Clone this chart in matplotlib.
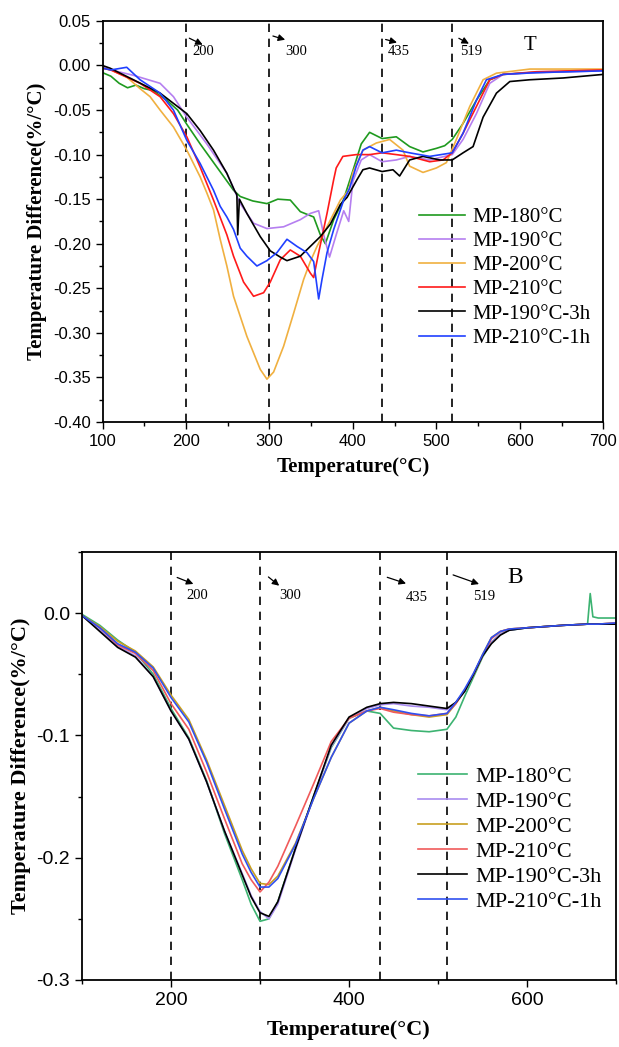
import numpy as np
import matplotlib
matplotlib.use("Agg")
import matplotlib.pyplot as plt
from matplotlib.ticker import MultipleLocator, FormatStrFormatter

plt.rcParams['font.family'] = ['Liberation Sans', 'DejaVu Sans']

labels = ['MP-180°C', 'MP-190°C', 'MP-200°C', 'MP-210°C', 'MP-190°C-3h', 'MP-210°C-1h']

# ---- panel T (top) ----
t_x_180 = [100, 110, 120, 130, 140, 150, 160, 177, 190, 201, 217, 237, 257, 265, 280, 297, 310, 325, 337,
           345, 353, 361, 367, 377, 389, 400, 410, 420, 435, 452, 468, 484, 500, 510, 519, 532, 548, 564,
           580, 612, 650, 700]
t_y_180 = [-0.008, -0.012, -0.02, -0.025, -0.022, -0.026, -0.028, -0.039, -0.05, -0.066, -0.088, -0.114,
           -0.14, -0.147, -0.152, -0.155, -0.15, -0.151, -0.164, -0.167, -0.17, -0.19, -0.2, -0.173, -0.15,
           -0.118, -0.088, -0.075, -0.082, -0.080, -0.091, -0.097, -0.093, -0.09, -0.083, -0.065, -0.039,
           -0.016, -0.01, -0.008, -0.007, -0.005]

t_x_190 = [100, 110, 137, 169, 185, 201, 225, 249, 265, 281, 297, 317, 337, 349, 359, 365, 372, 380, 389,
           395, 400, 410, 420, 435, 452, 468, 492, 519, 532, 548, 564, 580, 620, 700]
t_y_190 = [-0.002, -0.005, -0.011, -0.02, -0.035, -0.058, -0.088, -0.121, -0.155, -0.177, -0.183, -0.181,
           -0.173, -0.166, -0.163, -0.19, -0.215, -0.19, -0.163, -0.175, -0.13, -0.106, -0.10, -0.108,
           -0.106, -0.102, -0.106, -0.10, -0.083, -0.054, -0.02, -0.01, -0.008, -0.006]

t_x_200 = [100, 110, 129, 145, 157, 169, 185, 201, 217, 225, 233, 241, 249, 257, 273, 289, 297, 305, 317,
           329, 341, 349, 357, 369, 385, 395, 400, 412, 428, 444, 460, 468, 484, 500, 512, 524, 540, 556,
           572, 612, 700]
t_y_200 = [-0.003, -0.005, -0.013, -0.026, -0.035, -0.05, -0.069, -0.095, -0.125, -0.143, -0.162, -0.195,
           -0.225, -0.259, -0.304, -0.341, -0.352, -0.344, -0.315, -0.278, -0.24, -0.22, -0.203, -0.181,
           -0.151, -0.14, -0.12, -0.095, -0.087, -0.083, -0.095, -0.113, -0.12, -0.115, -0.109, -0.083,
           -0.046, -0.016, -0.0086, -0.004, -0.004]

t_x_210 = [100, 110, 145, 169, 185, 201, 217, 233, 249, 257, 269, 281, 293, 301, 313, 325, 337, 349, 353,
           359, 369, 377, 380, 388, 404, 420, 435, 452, 468, 492, 508, 519, 532, 548, 564, 580, 620, 700]
t_y_210 = [-0.003, -0.005, -0.02, -0.035, -0.054, -0.08, -0.114, -0.151, -0.19, -0.214, -0.243, -0.259,
           -0.255, -0.243, -0.218, -0.207, -0.214, -0.233, -0.238, -0.21, -0.166, -0.128, -0.115, -0.102,
           -0.1, -0.1, -0.098, -0.1, -0.102, -0.108, -0.106, -0.098, -0.076, -0.046, -0.016, -0.01,
           -0.007, -0.005]

t_x_190_3h = [100, 109, 137, 169, 201, 217, 233, 249, 258, 261, 262, 264, 273, 289, 301, 313, 321, 337,
              349, 361, 373, 385, 393, 405, 412, 420, 435, 448, 456, 468, 484, 504, 519, 532, 544, 556,
              572, 588, 612, 652, 700]
t_y_190_3h = [0.0, -0.003, -0.016, -0.031, -0.054, -0.073, -0.095, -0.121, -0.14, -0.145, -0.19, -0.15,
              -0.166, -0.192, -0.208, -0.215, -0.219, -0.214, -0.203, -0.192, -0.178, -0.156, -0.148,
              -0.128, -0.117, -0.115, -0.119, -0.117, -0.124, -0.106, -0.102, -0.106, -0.106, -0.098,
              -0.091, -0.058, -0.031, -0.018, -0.016, -0.014, -0.01]

t_x_210_1h = [100, 110, 129, 145, 169, 185, 201, 217, 233, 241, 249, 257, 265, 273, 285, 297, 309, 321,
              333, 345, 353, 359, 363, 369, 377, 389, 396, 404, 412, 420, 435, 452, 468, 492, 519, 532,
              548, 560, 580, 620, 700]
t_y_210_1h = [-0.003, -0.005, -0.002, -0.016, -0.031, -0.05, -0.084, -0.11, -0.14, -0.158, -0.17, -0.184,
              -0.205, -0.214, -0.225, -0.219, -0.21, -0.195, -0.203, -0.21, -0.22, -0.262, -0.24, -0.21,
              -0.184, -0.151, -0.138, -0.113, -0.095, -0.091, -0.098, -0.095, -0.098, -0.102, -0.098,
              -0.076, -0.039, -0.016, -0.01, -0.008, -0.006]

# ---- panel B (bottom) ----
b_x = [100, 120, 140, 160, 180, 200, 220, 240, 260, 280, 290, 300, 310, 320, 340, 360, 380, 400, 420,
       435, 450, 470, 490, 510, 520, 530, 540, 550, 560, 570, 580, 600, 640, 668, 671, 674, 680, 700]
b_y_180 = [-0.001, -0.01, -0.022, -0.032, -0.05, -0.078, -0.102, -0.137, -0.18, -0.218, -0.238, -0.252,
           -0.25, -0.236, -0.192, -0.15, -0.11, -0.086, -0.08, -0.082, -0.094, -0.096, -0.097, -0.095,
           -0.085, -0.068, -0.052, -0.036, -0.024, -0.017, -0.014, -0.012, -0.01, -0.009, 0.016, -0.003,
           -0.004, -0.004]
b_y_190 = [-0.002, -0.014, -0.027, -0.035, -0.052, -0.08, -0.103, -0.138, -0.178, -0.213, -0.231, -0.244,
           -0.25, -0.238, -0.193, -0.151, -0.109, -0.086, -0.078, -0.075, -0.074, -0.076, -0.077, -0.079,
           -0.073, -0.064, -0.05, -0.035, -0.024, -0.017, -0.014, -0.012, -0.01, -0.009, -0.009, -0.009,
           -0.009, -0.009]
b_y_200 = [-0.002, -0.011, -0.023, -0.031, -0.044, -0.067, -0.087, -0.12, -0.157, -0.194, -0.209, -0.221,
           -0.222, -0.215, -0.188, -0.152, -0.118, -0.09, -0.08, -0.077, -0.08, -0.083, -0.085, -0.083,
           -0.074, -0.063, -0.05, -0.034, -0.02, -0.015, -0.013, -0.012, -0.01, -0.009, -0.009, -0.009,
           -0.009, -0.008]
b_y_210 = [-0.002, -0.012, -0.026, -0.033, -0.047, -0.074, -0.095, -0.13, -0.168, -0.205, -0.218, -0.228,
           -0.22, -0.207, -0.174, -0.14, -0.105, -0.086, -0.08, -0.078, -0.081, -0.083, -0.084, -0.082,
           -0.074, -0.063, -0.05, -0.035, -0.021, -0.015, -0.013, -0.012, -0.01, -0.009, -0.009, -0.009,
           -0.009, -0.008]
b_y_190_3h = [-0.002, -0.015, -0.028, -0.036, -0.052, -0.08, -0.103, -0.138, -0.178, -0.214, -0.232,
              -0.245, -0.248, -0.236, -0.192, -0.15, -0.108, -0.085, -0.077, -0.074, -0.073, -0.074,
              -0.076, -0.078, -0.073, -0.064, -0.05, -0.035, -0.025, -0.018, -0.014, -0.012, -0.01,
              -0.009, -0.009, -0.009, -0.009, -0.009]
b_y_210_1h = [-0.002, -0.012, -0.025, -0.032, -0.045, -0.069, -0.089, -0.122, -0.16, -0.197, -0.212,
              -0.224, -0.224, -0.217, -0.189, -0.152, -0.118, -0.09, -0.08, -0.077, -0.079, -0.082,
              -0.084, -0.082, -0.073, -0.062, -0.049, -0.034, -0.02, -0.015, -0.013, -0.012, -0.01,
              -0.009, -0.009, -0.009, -0.009, -0.008]

t_colors = ['#1f9a1f', '#b57ff0', '#f0b040', '#ff1a1a', '#000000', '#2040ff']
b_colors = ['#3cb371', '#a98cf0', '#c8a020', '#f05a5a', '#000000', '#3050f0']

t_lines = [200, 300, 435, 519]
b_lines = [200, 300, 435, 510]
mark_text = ['200', '300', '435', '519']

serif = ['Liberation Serif', 'DejaVu Serif']

fig = plt.figure(figsize=(6.19, 10.47), dpi=100)

# ================= top panel =================
ax1 = fig.add_axes([0.1656, 0.597, 0.809, 0.383])
t_data = [(t_x_180, t_y_180), (t_x_190, t_y_190), (t_x_200, t_y_200), (t_x_210, t_y_210),
          (t_x_190_3h, t_y_190_3h), (t_x_210_1h, t_y_210_1h)]
for (xs, ys), c, lab in zip(t_data, t_colors, labels):
    ax1.plot(xs, ys, color=c, lw=1.2, label=lab)

for xv in t_lines:
    ax1.axvline(xv, color='k', lw=1.2, ls=(0, (5, 4)), zorder=0)

# arrows + labels
t_arrows = [((201, 0.032), (223, 0.022)), ((301, 0.034), (322, 0.028)),
            ((436, 0.030), (456, 0.025)), ((524, 0.032), (542, 0.023))]
t_text_x = [208, 319, 442, 529]
for (st, en), tx, s in zip(t_arrows, t_text_x, mark_text):
    ax1.annotate('', xy=en, xytext=st,
                 arrowprops=dict(arrowstyle='-|>', color='k', lw=0.9, mutation_scale=10))
    ax1.text(tx, 0.0155, s, fontsize=10.5, family=serif, va='center', ha='left')
ax1.text(612, 0.023, 'T', fontsize=15, family=serif, va='center', ha='center')

ax1.set_xlim(100, 700)
ax1.set_ylim(-0.40, 0.05)
ax1.xaxis.set_major_locator(MultipleLocator(100))
ax1.xaxis.set_minor_locator(MultipleLocator(50))
ax1.yaxis.set_major_locator(MultipleLocator(0.05))
ax1.yaxis.set_minor_locator(MultipleLocator(0.025))
ax1.yaxis.set_major_formatter(FormatStrFormatter('%.2f'))
ax1.tick_params(which='both', direction='out', labelsize=12, width=1.0)
ax1.tick_params(which='major', length=5)
ax1.tick_params(which='minor', length=3)
for sp in ax1.spines.values():
    sp.set_linewidth(1.3)
ax1.set_xlabel('Temperature(°C)', fontsize=15, fontweight='bold', family=serif, labelpad=6)
ax1.set_ylabel('Temperature Difference(%/°C)', fontsize=15, fontweight='bold', family=serif, labelpad=4)

leg1 = ax1.legend(loc='upper left', bbox_to_anchor=(0.632, 0.535), frameon=False,
                  prop={'family': serif, 'size': 15}, handlelength=2.2, handletextpad=0.35,
                  labelspacing=0.22, borderaxespad=0, borderpad=0)

# ================= bottom panel =================
ax2 = fig.add_axes([0.1325, 0.064, 0.8627, 0.4088])
b_data = [b_y_180, b_y_190, b_y_200, b_y_210, b_y_190_3h, b_y_210_1h]
for ys, c, lab in zip(b_data, b_colors, labels):
    ax2.plot(b_x, ys, color=c, lw=1.2, label=lab)

for xv in b_lines:
    ax2.axvline(xv, color='k', lw=1.2, ls=(0, (5, 4)), zorder=0)

b_arrows = [((204, 0.030), (228, 0.023)), ((307, 0.031), (324, 0.021)),
            ((440, 0.030), (467, 0.0235)), ((514, 0.032), (549, 0.023))]
b_text_x = [230, 334, 476, 552]
b_text_y = [0.0144, 0.0144, 0.0125, 0.0134]
for (st, en), tx, ty, s in zip(b_arrows, b_text_x, b_text_y, mark_text):
    ax2.annotate('', xy=en, xytext=st,
                 arrowprops=dict(arrowstyle='-|>', color='k', lw=0.9, mutation_scale=10))
    ax2.text(tx, ty, s, fontsize=10.5, family=serif, va='center', ha='center')
ax2.text(587, 0.029, 'B', fontsize=17, family=serif, va='center', ha='center')

ax2.set_xlim(100, 700)
ax2.set_ylim(-0.3, 0.05)
ax2.xaxis.set_major_locator(MultipleLocator(200))
ax2.xaxis.set_minor_locator(MultipleLocator(100))
ax2.yaxis.set_major_locator(MultipleLocator(0.1))
ax2.yaxis.set_minor_locator(MultipleLocator(0.05))
ax2.yaxis.set_major_formatter(FormatStrFormatter('%.1f'))
ax2.tick_params(which='both', direction='out', labelsize=14, width=1.0)
ax2.tick_params(which='major', length=5)
ax2.tick_params(which='minor', length=3)
for sp in ax2.spines.values():
    sp.set_linewidth(1.3)
ax2.set_xlabel('Temperature(°C)', fontsize=16, fontweight='bold', family=serif, labelpad=8)
ax2.set_ylabel('Temperature Difference(%/°C)', fontsize=16, fontweight='bold', family=serif, labelpad=4)

leg2 = ax2.legend(loc='upper left', bbox_to_anchor=(0.63, 0.5), frameon=False,
                  prop={'family': serif, 'size': 16}, handlelength=2.2, handletextpad=0.35,
                  labelspacing=0.2, borderaxespad=0, borderpad=0)

fig.savefig('out.png', dpi=100)
